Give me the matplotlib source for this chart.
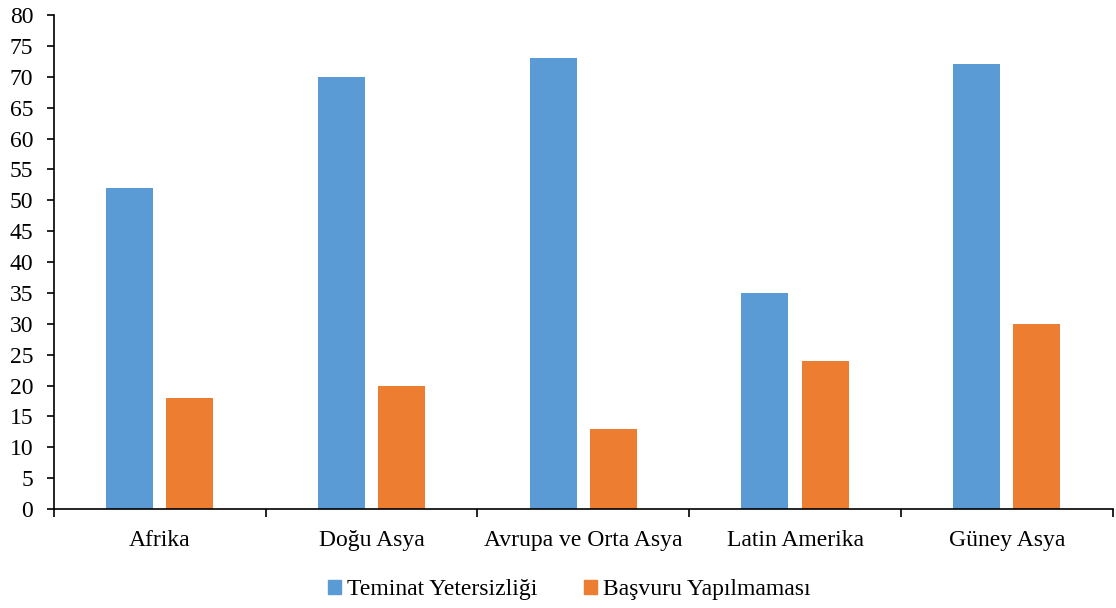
import matplotlib
matplotlib.use("Agg")
import matplotlib.pyplot as plt
import numpy as np
from matplotlib.patches import Patch

categories = ["Afrika", "Doğu Asya", "Avrupa ve Orta Asya", "Latin Amerika", "Güney Asya"]
teminat = [52, 70, 73, 35, 72]
basvuru = [18, 20, 13, 24, 30]
series_names = ["Teminat Yetersizliği", "Başvuru Yapılmaması"]
colors = ["#5B9BD5", "#ED7D31"]

plt.rcParams['font.family'] = ['Liberation Serif', 'DejaVu Serif']

fig = plt.figure(figsize=(11.16, 6.08), dpi=100)
ax = fig.add_axes([0.0484, 0.1628, 0.9486, 0.8125])

x = np.arange(len(categories))
w = 0.222
ax.bar(x - 0.142, teminat, width=w, color=colors[0])
ax.bar(x + 0.142, basvuru, width=w, color=colors[1])

ax.set_xlim(-0.5, len(categories) - 0.5)
ax.set_ylim(0, 80)
ax.set_yticks(np.arange(0, 81, 5))
ax.tick_params(axis='y', labelsize=17, length=5, width=1.2, direction='out', pad=10)

ax.set_xticks(np.arange(-0.5, len(categories), 1.0))
ax.set_xticklabels([])
ax.set_xticks(x, minor=True)
ax.set_xticklabels(categories, minor=True, fontsize=17)
ax.tick_params(axis='x', which='major', length=6, width=1.2, direction='out')
ax.tick_params(axis='x', which='minor', length=0, pad=15)

for s in ['top', 'right']:
    ax.spines[s].set_visible(False)
ax.spines['left'].set_linewidth(1.2)
ax.spines['bottom'].set_linewidth(1.2)

handles = [Patch(color=colors[0], label=series_names[0]), Patch(color=colors[1], label=series_names[1])]
fig.legend(handles=handles, loc='center', bbox_to_anchor=(0.51, 0.03), ncol=2, frameon=False,
           fontsize=17, handlelength=0.55, handleheight=0.55, handletextpad=0.25, columnspacing=2.0)

fig.savefig("out.png", dpi=100)
